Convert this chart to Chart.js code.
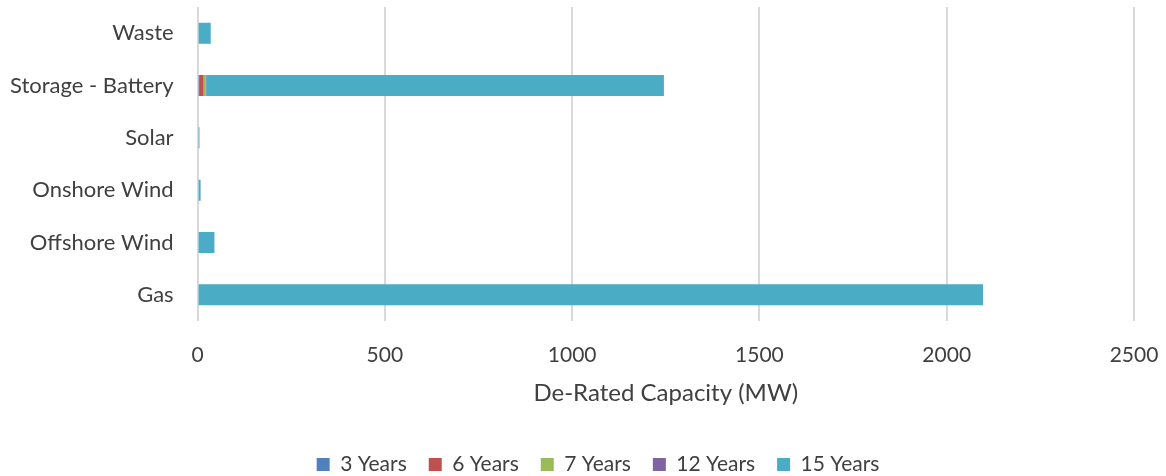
<!DOCTYPE html>
<html lang="en">
<head>
  <meta charset="UTF-8">
  <title>De-Rated Capacity</title>
  <script src="https://cdn.jsdelivr.net/npm/chart.js"></script>
  <style>
    html, body { margin: 0; padding: 0; background: #ffffff; }
    #wrap { width: 1166px; height: 476px; }
  </style>
</head>
<body>
  <div id="wrap"><canvas id="myChart"></canvas></div>

<script>
  // categories, top to bottom
  var categories = ['Waste', 'Storage - Battery', 'Solar', 'Onshore Wind', 'Offshore Wind', 'Gas']

  // de-rated capacity (MW) per contract length
  var years3 = [0, 4, 0, 0, 0, 0]
  var years6 = [0, 12, 0, 0, 0, 0]
  var years7 = [0, 5, 0, 0, 0, 0]
  var years12 = [0, 2, 0, 0, 0, 0]
  var years15 = [35, 1222, 5, 8, 45, 2097]

  var xTicks = [0, 500, 1000, 1500, 2000, 2500]

  var fontFamily = 'Lato, "Open Sans", sans-serif'

  new Chart(document.getElementById('myChart'), {
    type: 'bar',
    data: {
      labels: categories,
      datasets: [
        { label: '3 Years', data: years3, backgroundColor: '#4F81BD' },
        { label: '6 Years', data: years6, backgroundColor: '#C0504D' },
        { label: '7 Years', data: years7, backgroundColor: '#9BBB59' },
        { label: '12 Years', data: years12, backgroundColor: '#8064A2' },
        { label: '15 Years', data: years15, backgroundColor: '#4BACC6' }
      ]
    },
    options: {
      indexAxis: 'y',
      responsive: true,
      maintainAspectRatio: false,
      animation: false,
      datasets: {
        bar: { barPercentage: 0.4, categoryPercentage: 1.0 }
      },
      layout: { padding: { left: 10, right: -20, top: 0, bottom: -9 } },
      scales: {
        x: {
          stacked: true,
          min: 0,
          max: 2500,
          afterBuildTicks: function (axis) {
            axis.ticks = xTicks.map(function (v) { return { value: v } })
          },
          afterFit: function (axis) {
            axis.paddingRight = 32
          },
          grid: { color: '#d9d9d9', lineWidth: 2, drawTicks: true, tickLength: 22, tickColor: 'rgba(0,0,0,0)' },
          border: { display: false },
          ticks: {
            color: '#404040',
            font: { family: fontFamily, size: 21 },
            padding: 0,
            callback: function (v) { return String(v) }
          },
          title: {
            display: true,
            text: 'De-Rated Capacity (MW)',
            color: '#404040',
            font: { family: fontFamily, size: 24 },
            padding: { top: 11, bottom: 24 }
          }
        },
        y: {
          stacked: true,
          grid: { display: true, color: 'rgba(0,0,0,0)', drawTicks: true, tickLength: 24, tickColor: 'rgba(0,0,0,0)' },
          border: { display: false },
          ticks: { color: '#404040', font: { family: fontFamily, size: 22 }, padding: 0 },
          afterFit: function (axis) {
            axis.paddingTop = 7
            axis.paddingBottom = 0
          }
        }
      },
      plugins: {
        legend: {
          position: 'bottom',
          labels: {
            color: '#404040',
            font: { family: fontFamily, size: 21 },
            boxWidth: 13,
            boxHeight: 13,
            padding: 22
          }
        },
        tooltip: { enabled: false }
      }
    }
  });
</script>
</body>
</html>
